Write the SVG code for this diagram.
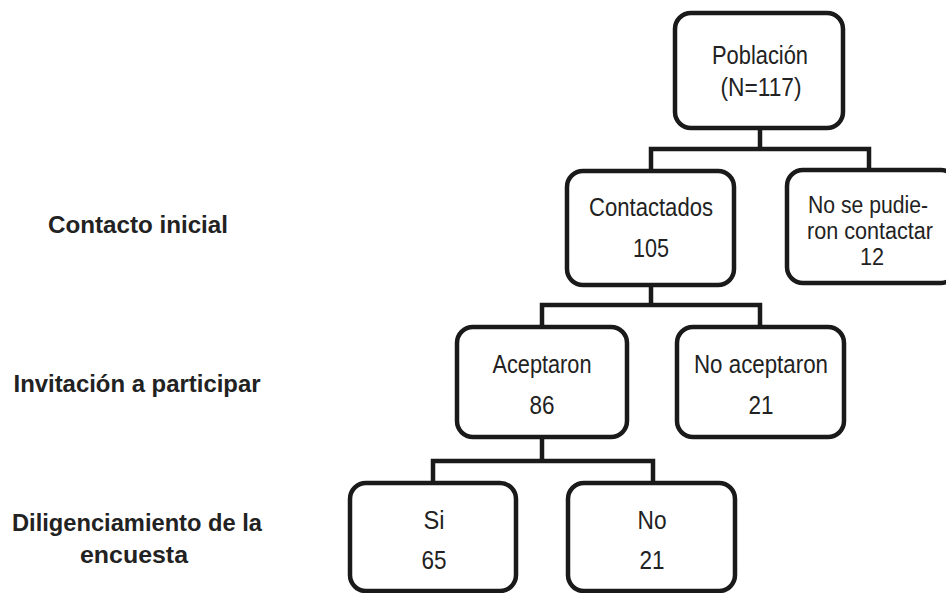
<svg xmlns="http://www.w3.org/2000/svg" width="946" height="593" viewBox="0 0 946 593">
<style>
.box{fill:#fff;stroke:#1a1a1a;stroke-width:4.5}
.ln{fill:none;stroke:#1a1a1a;stroke-width:4.5;stroke-linejoin:miter;stroke-linecap:square}
.t{font-family:"Liberation Sans",Arial,sans-serif;font-size:26px;fill:#222;text-anchor:middle}
.s{font-size:23px}
.lb{font-family:"Liberation Sans",Arial,sans-serif;font-size:24px;font-weight:bold;fill:#222;text-anchor:middle}
</style>
<rect width="946" height="593" fill="#fff"/>
<g id="connectors">
<path class="ln" d="M760,128 V149 M651,171 V149 H869 V171"/>
<path class="ln" d="M651,285 V305 M542,327 V305 H760 V327"/>
<path class="ln" d="M542,437 V461 M433,483 V461 H653 V483"/>
</g>
<g id="poblacion">
<rect class="box" x="675" y="13" width="168" height="115" rx="16"/>
<text class="t" x="760" y="64" textLength="96" lengthAdjust="spacingAndGlyphs">Población</text>
<text class="t" x="761" y="96" textLength="81" lengthAdjust="spacingAndGlyphs">(N=117)</text>
</g>
<g id="contactados">
<rect class="box" x="567" y="171" width="167" height="114" rx="16"/>
<text class="t" x="651" y="216" textLength="124" lengthAdjust="spacingAndGlyphs">Contactados</text>
<text class="t" x="651" y="257" textLength="36" lengthAdjust="spacingAndGlyphs">105</text>
</g>
<g id="no-contactados">
<rect class="box" x="787" y="170" width="170" height="113" rx="16"/>
<text class="t s" x="868" y="213" textLength="120" lengthAdjust="spacingAndGlyphs">No se pudie-</text>
<text class="t s" x="870" y="239" textLength="126" lengthAdjust="spacingAndGlyphs">ron contactar</text>
<text class="t s" x="872" y="265" textLength="24" lengthAdjust="spacingAndGlyphs">12</text>
</g>
<g id="aceptaron">
<rect class="box" x="457" y="327" width="170" height="110" rx="16"/>
<text class="t" x="542" y="373" textLength="99" lengthAdjust="spacingAndGlyphs">Aceptaron</text>
<text class="t" x="542" y="414" textLength="25" lengthAdjust="spacingAndGlyphs">86</text>
</g>
<g id="no-aceptaron">
<rect class="box" x="677" y="327" width="167" height="110" rx="16"/>
<text class="t" x="761" y="373" textLength="134" lengthAdjust="spacingAndGlyphs">No aceptaron</text>
<text class="t" x="761" y="414" textLength="25" lengthAdjust="spacingAndGlyphs">21</text>
</g>
<g id="si">
<rect class="box" x="350" y="483" width="166" height="108" rx="16"/>
<text class="t" x="434" y="529" textLength="21" lengthAdjust="spacingAndGlyphs">Si</text>
<text class="t" x="434" y="569" textLength="25" lengthAdjust="spacingAndGlyphs">65</text>
</g>
<g id="no">
<rect class="box" x="568" y="483" width="167" height="108" rx="16"/>
<text class="t" x="652" y="529" textLength="29" lengthAdjust="spacingAndGlyphs">No</text>
<text class="t" x="652" y="569" textLength="25" lengthAdjust="spacingAndGlyphs">21</text>
</g>
<g id="labels">
<text class="lb" x="138" y="233" textLength="180" lengthAdjust="spacingAndGlyphs">Contacto inicial</text>
<text class="lb" x="137" y="392" textLength="247" lengthAdjust="spacingAndGlyphs">Invitación a participar</text>
<text class="lb" x="137" y="531" textLength="250" lengthAdjust="spacingAndGlyphs">Diligenciamiento de la</text>
<text class="lb" x="134" y="563" textLength="108" lengthAdjust="spacingAndGlyphs">encuesta</text>
</g>
</svg>
